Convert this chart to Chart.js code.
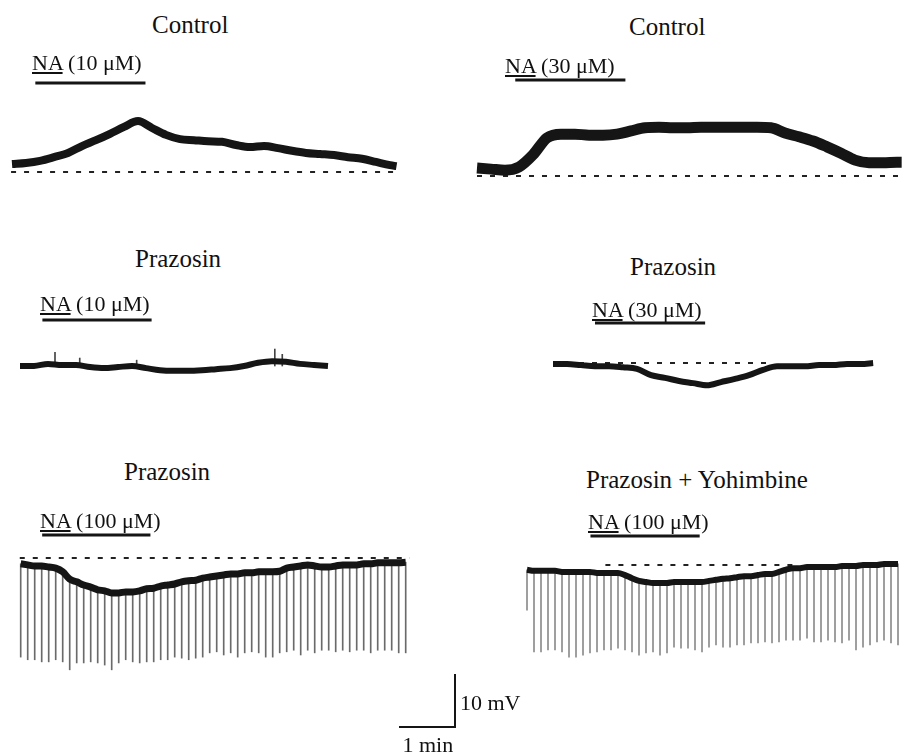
<!DOCTYPE html>
<html>
<head>
<meta charset="utf-8">
<script src="https://cdn.jsdelivr.net/npm/chart.js@4.4.1/dist/chart.umd.min.js"></script>
<style>
  html, body { margin: 0; padding: 0; background: #fff; }
  #fig { position: relative; width: 903px; height: 755px; overflow: hidden; color: #111; }
  #fig canvas { position: absolute; }
  .lbl { position: absolute; white-space: nowrap; line-height: 1;
         font-family: "Liberation Serif", "Times New Roman", serif; font-weight: normal; }
</style>
</head>
<body>
<div id="fig"></div>
<script>
// recording scale (from the scale bar): 1 min and 10 mV
const PX_PER_S = 56 / 60;
const PX_PER_MV = 5.3;

// --- Control, NA 10 uM : time (s) / membrane potential change (mV)
const c10Time = [0, 15, 30, 45, 60, 75, 90, 105, 120, 135, 150, 165, 180, 195, 210, 225, 240, 255, 270, 285, 300, 315, 330, 345, 360, 375, 390, 405, 412];
const c10Volt = [1.5, 1.7, 2.1, 2.8, 3.6, 4.9, 6.0, 7.2, 8.5, 9.6, 8.3, 7.0, 6.2, 6.0, 5.8, 5.7, 5.1, 4.7, 4.9, 4.5, 4.0, 3.6, 3.4, 3.2, 2.8, 2.5, 1.9, 1.3, 1.1];
const c10NA = [25, 143];
const c10Base = [-1, 414];

// --- Control, NA 30 uM
const c30Time = [0, 15, 30, 45, 60, 75, 90, 105, 120, 135, 150, 165, 180, 195, 210, 225, 240, 255, 270, 285, 300, 315, 330, 345, 360, 375, 390, 405, 420, 435, 450, 455];
const c30Volt = [1.5, 1.3, 1.1, 1.7, 4.0, 7.2, 7.9, 7.9, 7.7, 7.7, 7.9, 8.5, 9.1, 9.2, 9.1, 9.1, 9.2, 9.2, 9.2, 9.2, 9.2, 9.1, 8.1, 7.4, 6.6, 5.5, 4.3, 3.0, 2.5, 2.5, 2.6, 2.6];
const c30NA = [41, 159];
const c30Base = [0, 456];

// --- Prazosin, NA 10 uM
const p10Time = [0, 15, 30, 45, 60, 75, 90, 105, 120, 135, 150, 165, 180, 195, 210, 225, 240, 255, 270, 285, 300, 315, 330];
const p10Volt = [0, 0, 0.4, 0.2, 0.2, -0.2, -0.4, -0.2, 0, -0.4, -0.8, -0.9, -0.9, -0.8, -0.6, -0.4, 0, 0.6, 0.9, 0.8, 0.4, 0.2, 0];
const p10TransTime = [37.5, 64, 125, 273, 281];
const p10TransTip = [2.6, 1.5, 1.1, 3.2, 2.2];
const p10NA = [24, 141];

// --- Prazosin, NA 30 uM
const p30Time = [0, 15, 30, 45, 60, 75, 90, 105, 120, 135, 150, 165, 180, 195, 210, 225, 240, 255, 270, 285, 300, 315, 330, 343];
const p30Volt = [-0.2, -0.2, -0.4, -0.6, -0.6, -0.8, -1.1, -2.3, -2.8, -3.4, -3.8, -4.2, -3.6, -3.0, -2.3, -1.3, -0.6, -0.6, -0.6, -0.4, -0.4, -0.2, -0.2, 0];
const p30NA = [45, 163];
const p30Base = [0, 232];

// --- hyperpolarizing pulses, one every 7.5 s (bottom row)
const pulseTime = [0, 7.5, 15, 22.5, 30, 37.5, 45, 52.5, 60, 67.5, 75, 82.5, 90, 97.5, 105, 112.5, 120, 127.5, 135, 142.5,
  150, 157.5, 165, 172.5, 180, 187.5, 195, 202.5, 210, 217.5, 225, 232.5, 240, 247.5, 255, 262.5, 270, 277.5, 285, 292.5,
  300, 307.5, 315, 322.5, 330, 337.5, 345, 352.5, 360, 367.5, 375, 382.5, 390, 397.5, 405, 412.5];

// --- Prazosin, NA 100 uM : potential before each pulse and pulse peak (mV)
const p100Rest = [-1.1, -1.3, -1.5, -1.5, -1.7, -1.9, -2.6, -4.0, -4.5, -5.1, -5.5, -6.0, -6.2, -6.6, -6.6, -6.4, -6.4, -6.2, -5.8, -5.7,
  -5.3, -5.1, -4.9, -4.5, -4.3, -4.2, -3.8, -3.6, -3.4, -3.2, -3.0, -3.0, -2.8, -2.8, -2.6, -2.6, -2.6, -2.5, -1.9, -1.7,
  -1.5, -1.3, -1.5, -1.7, -1.7, -1.5, -1.3, -1.3, -1.3, -1.1, -1.1, -0.9, -0.9, -0.9, -0.9, -0.8];
const p100Peak = [-18.7, -19.2, -19.2, -19.6, -19.6, -19.2, -19.6, -21.1, -19.8, -19.8, -19.6, -19.8, -20.2, -21.1, -19.8, -19.2, -19.6, -19.8, -19.6, -19.6,
  -19.2, -19.2, -18.7, -18.9, -19.2, -18.9, -18.7, -17.9, -17.7, -18.3, -17.9, -18.7, -17.9, -17.7, -17.9, -18.7, -18.7, -17.9, -17.7, -17.4,
  -18.3, -17.4, -17.9, -17.4, -17.4, -17.7, -17.4, -17.7, -17.4, -17.4, -17.9, -17.4, -17.4, -17.4, -17.9, -17.9];
const p100NA = [23, 139];
const p100Base = [-1, 417];

// --- Prazosin + Yohimbine, NA 100 uM
const py100Rest = [-0.9, -1.1, -1.1, -1.1, -1.1, -1.3, -1.3, -1.3, -1.3, -1.3, -1.5, -1.5, -1.5, -1.5, -1.9, -2.5, -3.0, -3.2, -3.4, -3.4,
  -3.4, -3.2, -3.2, -3.2, -3.2, -3.2, -3.0, -2.8, -2.6, -2.5, -2.3, -2.1, -2.1, -1.9, -1.7, -1.7, -1.3, -0.9, -0.6, -0.6,
  -0.4, -0.4, -0.4, -0.4, -0.4, -0.2, -0.2, -0.2, 0, 0, 0, 0.2, 0.2, 0.2];
const py100Peak = [-8.5, -16.4, -16.4, -16.0, -16.0, -16.4, -17.4, -17.4, -17.0, -16.6, -16.4, -16.0, -16.0, -15.7, -16.0, -16.4, -17.0, -16.6, -16.4, -17.0,
  -16.6, -15.5, -15.7, -15.7, -16.0, -16.4, -15.5, -15.1, -15.5, -15.5, -15.1, -15.1, -14.7, -14.7, -14.5, -14.7, -14.5, -14.2, -14.2, -14.2,
  -13.8, -14.5, -14.5, -14.2, -14.5, -14.7, -14.2, -16.0, -15.5, -15.1, -14.5, -14.2, -14.7, -15.1];
const py100NA = [68, 185];
const py100Base = [84, 292];

const fig = document.getElementById('fig');

function addLabel(html, x, baseline, size, center) {
    const d = document.createElement('div');
    d.className = 'lbl';
    d.innerHTML = html;
    d.style.fontSize = size + 'px';
    d.style.top = (baseline - 0.8375 * size) + 'px';
    fig.appendChild(d);
    d.style.left = (center ? x - d.offsetWidth / 2 : x) + 'px';
}

function makePanel(p) {
    const [left, top, w, h] = p.box;
    const [ox, oy] = p.origin;
    const cv = document.createElement('canvas');
    cv.width = w; cv.height = h;
    cv.style.left = left + 'px';
    cv.style.top = top + 'px';
    fig.appendChild(cv);

    const datasets = [];
    if (p.base) {
        datasets.push({
            type: 'line', data: [{ x: p.base[0], y: 0 }, { x: p.base[1], y: 0 }],
            borderColor: '#222', borderWidth: 2, borderDash: [5, 8], pointRadius: 0, clip: false, order: 2
        });
    }
    if (p.peak) {
        datasets.push({
            type: 'bar', data: p.time.map((t, i) => ({ x: t, y: [p.peak[i], p.volt[i]] })),
            backgroundColor: p.spikeColor, barThickness: 1, borderWidth: 0, order: 1
        });
    }
    if (p.trans) {
        datasets.push({
            type: 'bar', data: p.trans[0].map((t, i) => ({ x: t, y: [0, p.trans[1][i]] })),
            backgroundColor: '#444', barThickness: 1, borderWidth: 0, order: 1
        });
    }
    if (p.time) {
        datasets.push({
            type: 'line', data: p.time.map((t, i) => ({ x: t, y: p.volt[i] })),
            borderColor: '#151515', borderWidth: p.lw, pointRadius: 0, cubicInterpolationMode: 'monotone',
            borderJoinStyle: 'round', clip: false, order: 0
        });
    }
    if (p.path) {
        datasets.push({
            type: 'line', data: p.path, borderColor: '#151515', borderWidth: 2, pointRadius: 0, clip: false
        });
    }

    // bar marking the NA application period
    const naBar = {
        id: 'naBar',
        afterDatasetsDraw(chart) {
            if (!p.na) return;
            const xs = chart.scales.x;
            const ctx = chart.ctx;
            ctx.save();
            ctx.fillStyle = '#151515';
            const x1 = xs.getPixelForValue(p.na[0]);
            const x2 = xs.getPixelForValue(p.na[1]);
            ctx.fillRect(x1, p.barY - top - 1.5, x2 - x1, 3);
            ctx.restore();
        }
    };

    new Chart(cv, {
        type: 'line',
        data: { datasets },
        options: {
            responsive: false, animation: false, events: [],
            layout: { padding: 0 },
            plugins: { legend: { display: false }, tooltip: { enabled: false } },
            scales: {
                x: { type: 'linear', display: false, offset: false,
                     min: (left - ox) / PX_PER_S, max: (left + w - ox) / PX_PER_S },
                y: { type: 'linear', display: false,
                     min: (oy - top - h) / PX_PER_MV, max: (oy - top) / PX_PER_MV }
            }
        },
        plugins: [naBar]
    });

    if (p.title) addLabel(p.title, p.titleAt[0], p.titleAt[1], 25, true);
    if (p.drug) addLabel('<u>NA</u> (' + p.drug + ' \u03bcM)', p.drugAt[0], p.drugAt[1], 22, false);
}

const panels = [
    { title: 'Control', titleAt: [190, 33], drug: '10', drugAt: [32, 70],
      box: [0, 70, 450, 120], origin: [12, 172], barY: 83, lw: 8,
      time: c10Time, volt: c10Volt, na: c10NA, base: c10Base },
    { title: 'Control', titleAt: [667, 35], drug: '30', drugAt: [505, 73],
      box: [450, 70, 453, 120], origin: [477, 176], barY: 80, lw: 11,
      time: c30Time, volt: c30Volt, na: c30NA, base: c30Base },
    { title: 'Prazosin', titleAt: [178, 267], drug: '10', drugAt: [40, 311],
      box: [0, 310, 450, 80], origin: [20, 366], barY: 320, lw: 6,
      time: p10Time, volt: p10Volt, trans: [p10TransTime, p10TransTip], na: p10NA },
    { title: 'Prazosin', titleAt: [673, 275], drug: '30', drugAt: [592, 317],
      box: [450, 315, 453, 85], origin: [553, 363], barY: 323, lw: 6,
      time: p30Time, volt: p30Volt, na: p30NA, base: p30Base },
    { title: 'Prazosin', titleAt: [167, 480], drug: '100', drugAt: [40, 528],
      box: [0, 525, 450, 155], origin: [20.7, 558], barY: 535, lw: 7,
      time: pulseTime, volt: p100Rest, peak: p100Peak, spikeColor: '#6a6a6a', na: p100NA, base: p100Base },
    { title: 'Prazosin + Yohimbine', titleAt: [697, 488], drug: '100', drugAt: [588, 529],
      box: [450, 525, 453, 140], origin: [527, 565], barY: 536, lw: 6,
      time: pulseTime.slice(0, py100Rest.length), volt: py100Rest, peak: py100Peak, spikeColor: '#8c8c8c', na: py100NA, base: py100Base },
    // calibration: 1 min x 10 mV
    { box: [380, 660, 100, 80], origin: [399, 727],
      path: [{ x: 0, y: 0 }, { x: 60, y: 0 }, { x: 60, y: 10 }] }
];

panels.forEach(makePanel);
addLabel('10 mV', 460, 710, 22, false);
addLabel('1 min', 428, 752, 22, true);
</script>
</body>
</html>
